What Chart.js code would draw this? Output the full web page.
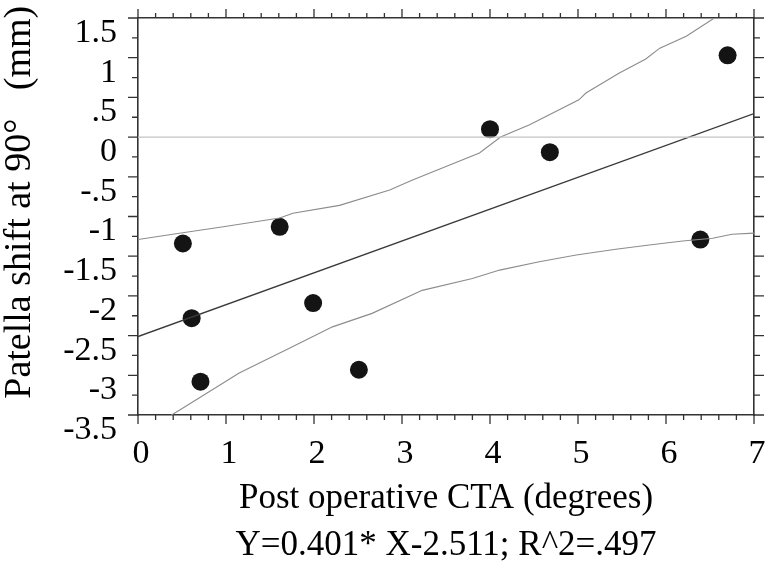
<!DOCTYPE html>
<html>
<head>
<meta charset="utf-8">
<title>Patella shift vs post operative CTA</title>
<script src="https://cdn.jsdelivr.net/npm/chart.js@4.4.1/dist/chart.umd.min.js"></script>
<style>
  html, body { margin: 0; padding: 0; background: #fff; }
  #wrap { width: 767px; height: 563px; }
</style>
</head>
<body>
<div id="wrap"><canvas id="cta" width="767" height="563"></canvas></div>
<script>
// measured points
const ctaX = [0.51, 0.61, 0.71, 1.61, 1.99, 2.51, 4.00, 4.68, 6.39, 6.70];
const shiftY = [-1.34, -2.28, -3.08, -1.13, -2.09, -2.93, 0.10, -0.19, -1.29, 1.03];

// regression line Y = 0.401 X - 2.511
const fitX = [0, 7];
const fitY = [-2.511, 0.296];

// confidence bands
const upperX = [0, 0.47, 0.97, 1.61, 1.76, 2.29, 2.86, 3.12, 3.88, 4.12, 4.45, 5.01, 5.09, 5.47, 5.77, 5.93, 6.23, 6.55];
const upperY = [-1.29, -1.21, -1.13, -1.02, -0.96, -0.86, -0.665, -0.54, -0.20, 0.0, 0.155, 0.47, 0.555, 0.807, 0.984, 1.12, 1.27, 1.50];
const lowerX = [0.38, 0.47, 1.15, 1.72, 2.21, 2.66, 3.23, 3.80, 4.11, 4.56, 4.98, 5.43, 5.81, 6.19, 6.53, 6.75, 7.0];
const lowerY = [-3.5, -3.44, -2.97, -2.66, -2.39, -2.22, -1.93, -1.78, -1.675, -1.57, -1.485, -1.413, -1.359, -1.308, -1.274, -1.224, -1.21];

// zero reference line
const zeroX = [0, 7];
const zeroY = [0, 0];

const xTickValues = [0, 1, 2, 3, 4, 5, 6, 7];
const xTickLabels = ['0', '1', '2', '3', '4', '5', '6', '7'];
const yTickValues = [1.5, 1, 0.5, 0, -0.5, -1, -1.5, -2, -2.5, -3, -3.5];
const yTickLabels = ['1.5', '1', '.5', '0', '-.5', '-1', '-1.5', '-2', '-2.5', '-3', '-3.5'];

const xTitle = ['Post operative CTA (degrees)', 'Y=0.401* X-2.511; R^2=.497'];
const yTitle = '   Patella shift at 90\u00B0   (mm)';

const serif = "'Liberation Serif', 'Times New Roman', serif";
const axisColor = '#333333';

function pairs(xs, ys) {
    return xs.map((x, i) => ({ x: x, y: ys[i] }));
}

// fixed box size, and no extra room for overhanging labels
function fixBox(w, h) {
    return s => {
        if (w !== null) s.width = w;
        if (h !== null) s.height = h;
        s.paddingTop = 0;
        s.paddingBottom = 0;
        s.paddingLeft = 0;
        s.paddingRight = 0;
    };
}

// major + minor tick marks on all four sides, pointing outward
const tickMarks = {
    id: 'tickMarks',
    afterDraw(chart) {
        const { ctx, chartArea } = chart;
        const xs = chart.scales.x;
        const ys = chart.scales.y;
        ctx.save();
        ctx.strokeStyle = axisColor;
        ctx.lineWidth = 1.3;
        ctx.beginPath();
        for (let i = 0; i <= 35; i++) {
            const v = i * 0.2;
            const len = i % 5 === 0 ? 9 : 5;
            const px = xs.getPixelForValue(v);
            ctx.moveTo(px, chartArea.bottom);
            ctx.lineTo(px, chartArea.bottom + len);
            ctx.moveTo(px, chartArea.top);
            ctx.lineTo(px, chartArea.top - len);
        }
        for (let i = 0; i <= 20; i++) {
            const v = -3.5 + i * 0.25;
            const len = i % 2 === 0 ? 10 : 6;
            const py = ys.getPixelForValue(v);
            ctx.moveTo(chartArea.left, py);
            ctx.lineTo(chartArea.left - len, py);
            ctx.moveTo(chartArea.right, py);
            ctx.lineTo(chartArea.right + len, py);
        }
        ctx.stroke();
        ctx.restore();
    }
};

new Chart(document.getElementById('cta'), {
    type: 'scatter',
    data: {
        datasets: [
            {
                type: 'line',
                data: pairs(zeroX, zeroY),
                borderColor: '#c4c4c4',
                borderWidth: 1.3,
                pointRadius: 0
            },
            {
                type: 'line',
                data: pairs(upperX, upperY),
                borderColor: '#8c8c8c',
                borderWidth: 1.1,
                pointRadius: 0
            },
            {
                type: 'line',
                data: pairs(lowerX, lowerY),
                borderColor: '#8c8c8c',
                borderWidth: 1.1,
                pointRadius: 0
            },
            {
                type: 'line',
                data: pairs(fitX, fitY),
                borderColor: '#3a3a3a',
                borderWidth: 1.4,
                pointRadius: 0
            },
            {
                data: pairs(ctaX, shiftY),
                backgroundColor: '#141414',
                borderWidth: 0,
                pointRadius: 9,
                pointHoverRadius: 9
            }
        ]
    },
    options: {
        responsive: false,
        animation: false,
        events: [],
        layout: { padding: 0 },
        plugins: {
            legend: { display: false },
            tooltip: { enabled: false }
        },
        scales: {
            x: {
                type: 'linear',
                position: 'bottom',
                min: 0,
                max: 7,
                afterFit: fixBox(null, 148),
                afterBuildTicks: s => { s.ticks = xTickValues.map(v => ({ value: v })); },
                grid: { display: false, drawTicks: false },
                border: { display: true, color: axisColor, width: 1.6 },
                ticks: {
                    autoSkip: false,
                    maxRotation: 0,
                    padding: 19,
                    labelOffset: 3,
                    color: '#000',
                    font: { family: serif, size: 34 },
                    callback: v => xTickLabels[xTickValues.indexOf(v)]
                },
                title: {
                    display: true,
                    text: xTitle,
                    color: '#000',
                    padding: { top: 0, bottom: -6 },
                    font: { family: serif, size: 35, lineHeight: 1.33 }
                }
            },
            x2: {
                type: 'linear',
                position: 'top',
                min: 0,
                max: 7,
                afterFit: fixBox(null, 18),
                grid: { display: false, drawTicks: false },
                border: { display: true, color: axisColor, width: 1.6 },
                ticks: { display: false }
            },
            y: {
                type: 'linear',
                position: 'left',
                min: -3.5,
                max: 1.5,
                afterFit: fixBox(138, null),
                afterBuildTicks: s => { s.ticks = yTickValues.map(v => ({ value: v })); },
                grid: { display: false, drawTicks: false },
                border: { display: true, color: axisColor, width: 1.6 },
                ticks: {
                    autoSkip: false,
                    padding: 21,
                    labelOffset: 15,
                    color: '#000',
                    font: { family: serif, size: 34 },
                    callback: v => yTickLabels[yTickValues.indexOf(v)]
                },
                title: {
                    display: true,
                    text: yTitle,
                    color: '#000',
                    padding: 0,
                    font: { family: serif, size: 38, lineHeight: 1.05 }
                }
            },
            y2: {
                type: 'linear',
                position: 'right',
                min: -3.5,
                max: 1.5,
                afterFit: fixBox(13, null),
                grid: { display: false, drawTicks: false },
                border: { display: true, color: axisColor, width: 1.6 },
                ticks: { display: false }
            }
        }
    },
    plugins: [tickMarks]
});
</script>
</body>
</html>
